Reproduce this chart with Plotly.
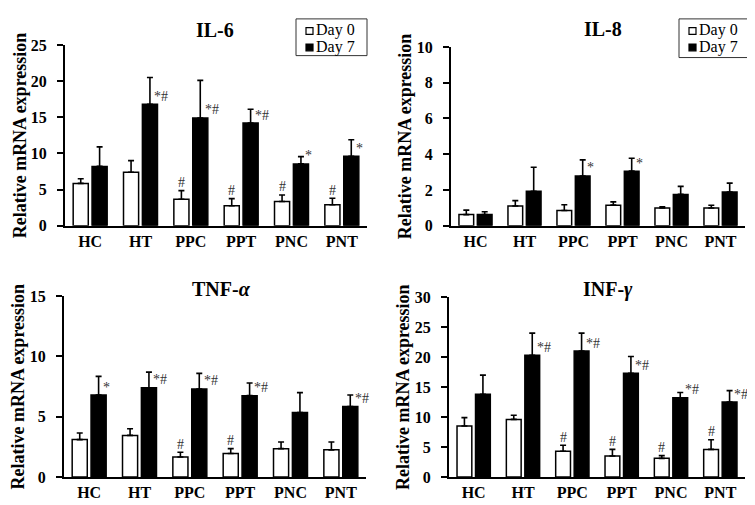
import plotly.graph_objects as go

# ---------------- data ----------------
categories = ["HC", "HT", "PPC", "PPT", "PNC", "PNT"]

il6_day0 = [5.85, 7.4, 3.65, 2.75, 3.35, 2.9]
il6_day0_err = [0.65, 1.6, 1.2, 1.0, 0.9, 0.9]
il6_day7 = [8.2, 16.8, 14.9, 14.2, 8.55, 9.6]
il6_day7_err = [2.7, 3.7, 5.2, 1.9, 1.0, 2.3]
il6_sig0 = ["", "", "#", "#", "#", "#"]
il6_sig7 = ["", "*#", "*#", "*#", "*", "*"]

il8_day0 = [0.62, 1.1, 0.85, 1.15, 0.99, 0.99]
il8_day0_err = [0.25, 0.3, 0.32, 0.18, 0.07, 0.15]
il8_day7 = [0.63, 1.92, 2.78, 3.05, 1.75, 1.88]
il8_day7_err = [0.15, 1.35, 0.9, 0.72, 0.45, 0.5]
il8_sig0 = ["", "", "", "", "", ""]
il8_sig7 = ["", "", "*", "*", "", ""]

tnf_day0 = [3.1, 3.45, 1.65, 1.95, 2.35, 2.25]
tnf_day0_err = [0.55, 0.55, 0.4, 0.4, 0.55, 0.65]
tnf_day7 = [6.8, 7.4, 7.3, 6.75, 5.35, 5.85]
tnf_day7_err = [1.55, 1.3, 1.3, 1.05, 1.65, 0.95]
tnf_sig0 = ["", "", "#", "#", "", ""]
tnf_sig7 = ["*", "*#", "*#", "*#", "", "*#"]

inf_day0 = [8.5, 9.6, 4.3, 3.5, 3.1, 4.6]
inf_day0_err = [1.4, 0.7, 1.0, 1.1, 0.45, 1.6]
inf_day7 = [13.8, 20.3, 21.0, 17.3, 13.2, 12.5]
inf_day7_err = [3.2, 3.7, 3.0, 2.8, 0.9, 1.9]
inf_sig0 = ["", "", "#", "#", "#", "#"]
inf_sig7 = ["", "*#", "*#", "*#", "*#", "*#"]

series_names = ["Day 0", "Day 7"]
y_title = "Relative mRNA expression"

# ---------------- layout helpers ----------------
W, H = 755, 505
FONT = "Liberation Serif, Times New Roman, serif"


def fx(v):
    return v / W


def fy(v):
    return 1 - v / H


panels = [
    dict(title="IL-6", d0=il6_day0, e0=il6_day0_err, d7=il6_day7, e7=il6_day7_err,
         s0=il6_sig0, s7=il6_sig7, ymax=25, dtick=5,
         x0=57, x1=359, ytop=30, yzero=217, tpos=(207, 15), ytx=12, legend=(288, 3, 359, 41)),
    dict(title="IL-8", d0=il8_day0, e0=il8_day0_err, d7=il8_day7, e7=il8_day7_err,
         s0=il8_sig0, s7=il8_sig7, ymax=10, dtick=2,
         x0=443, x1=737, ytop=32, yzero=217, tpos=(595, 13), ytx=397, legend=(671, 3, 742, 43)),
    dict(title="TNF-<i>α</i>", d0=tnf_day0, e0=tnf_day0_err, d7=tnf_day7, e7=tnf_day7_err,
         s0=tnf_sig0, s7=tnf_sig7, ymax=15, dtick=5,
         x0=56, x1=358, ytop=290, yzero=477, tpos=(213, 283), ytx=10, legend=None),
    dict(title="INF-<i>γ</i>", d0=inf_day0, e0=inf_day0_err, d7=inf_day7, e7=inf_day7_err,
         s0=inf_sig0, s7=inf_sig7, ymax=30, dtick=5,
         x0=441, x1=737, ytop=291, yzero=477, tpos=(600, 283), ytx=395, legend=None),
]

fig = go.Figure()
annotations = []
shapes = []
layout = {}

BAR_OFF = 0.1875  # half of a bar slot (bargap 0.25 -> group 0.75 -> slot 0.375)

for k, p in enumerate(panels, start=1):
    xa = "x" if k == 1 else f"x{k}"
    ya = "y" if k == 1 else f"y{k}"
    for name, vals, errs, fill in [
        (series_names[0], p["d0"], p["e0"], "white"),
        (series_names[1], p["d7"], p["e7"], "black"),
    ]:
        fig.add_trace(go.Bar(
            x=categories, y=vals, name=name, xaxis=xa, yaxis=ya, showlegend=False,
            marker=dict(color=fill, line=dict(color="black", width=1.5)),
            error_y=dict(type="data", symmetric=False, array=errs,
                         arrayminus=[0] * len(errs), color="black",
                         thickness=1.6, width=3),
        ))

    layout["xaxis" if k == 1 else f"xaxis{k}"] = dict(
        domain=[fx(p["x0"]), fx(p["x1"])], anchor=ya, type="category",
        range=[-0.5, len(categories) - 0.5],
        showline=True, linecolor="black", linewidth=2, ticks="",
        showgrid=False, zeroline=False, ticklabelstandoff=0,
        tickfont=dict(family=FONT, size=16, color="black", weight="bold"),
    )
    layout["yaxis" if k == 1 else f"yaxis{k}"] = dict(
        domain=[fy(p["yzero"]), fy(p["ytop"])], anchor=xa,
        range=[0, p["ymax"]], dtick=p["dtick"], tick0=0,
        showline=True, linecolor="black", linewidth=2,
        ticks="outside", ticklen=6, tickwidth=2, tickcolor="black",
        showgrid=False, zeroline=False, ticklabelstandoff=7,
        tickfont=dict(family=FONT, size=16, color="black", weight="bold"),
    )

    # panel title
    annotations.append(dict(
        text=f"<b>{p['title']}</b>", x=fx(p["tpos"][0]), y=fy(p["tpos"][1]),
        xref="paper", yref="paper", xanchor="center", yanchor="middle",
        showarrow=False, font=dict(family=FONT, size=20, color="black")))
    # y title
    annotations.append(dict(
        text=f"<b>{y_title}</b>", x=fx(p["ytx"]), y=fy((p["ytop"] + p["yzero"]) / 2),
        xref="paper", yref="paper", xanchor="center", yanchor="middle",
        textangle=-90, showarrow=False, font=dict(family=FONT, size=18, color="black")))

    # significance marks
    for i in range(len(categories)):
        if p["s0"][i]:
            annotations.append(dict(
                text=p["s0"][i], x=i - BAR_OFF, y=p["d0"][i] + p["e0"][i],
                xref=xa, yref=ya, xanchor="center", yanchor="middle", yshift=8,
                showarrow=False, font=dict(family=FONT, size=14, color="#333")))
        if p["s7"][i]:
            annotations.append(dict(
                text=p["s7"][i], x=i + BAR_OFF + 0.15, y=p["d7"][i],
                xref=xa, yref=ya, xanchor="left", yanchor="middle", yshift=8, xshift=-5,
                showarrow=False, font=dict(family=FONT, size=14, color="#333")))

    # legend box
    if p["legend"]:
        lx0, ly0, lx1, ly1 = p["legend"]
        shapes.append(dict(type="rect", xref="paper", yref="paper",
                           x0=fx(lx0), x1=fx(lx1), y0=fy(ly1), y1=fy(ly0),
                           line=dict(color="#333", width=1), fillcolor="white"))
        rows = [ly0 + 12, ly0 + 29]
        for r, (nm, fill) in enumerate(zip(series_names, ["white", "black"])):
            cy = rows[r]
            shapes.append(dict(type="rect", xref="paper", yref="paper",
                               x0=fx(lx0 + 10), x1=fx(lx0 + 17), y0=fy(cy + 4), y1=fy(cy - 3),
                               line=dict(color="black", width=1.2), fillcolor=fill))
            annotations.append(dict(
                text=nm, x=fx(lx0 + 18), y=fy(cy), xref="paper", yref="paper",
                xanchor="left", yanchor="middle", showarrow=False,
                font=dict(family=FONT, size=16, color="black")))

fig.update_layout(
    width=W, height=H, margin=dict(l=0, r=0, t=0, b=0),
    paper_bgcolor="white", plot_bgcolor="white",
    barmode="group", bargap=0.25, bargroupgap=0.2,
    showlegend=False, annotations=annotations, shapes=shapes,
    **layout,
)

fig.write_html("out.html")
